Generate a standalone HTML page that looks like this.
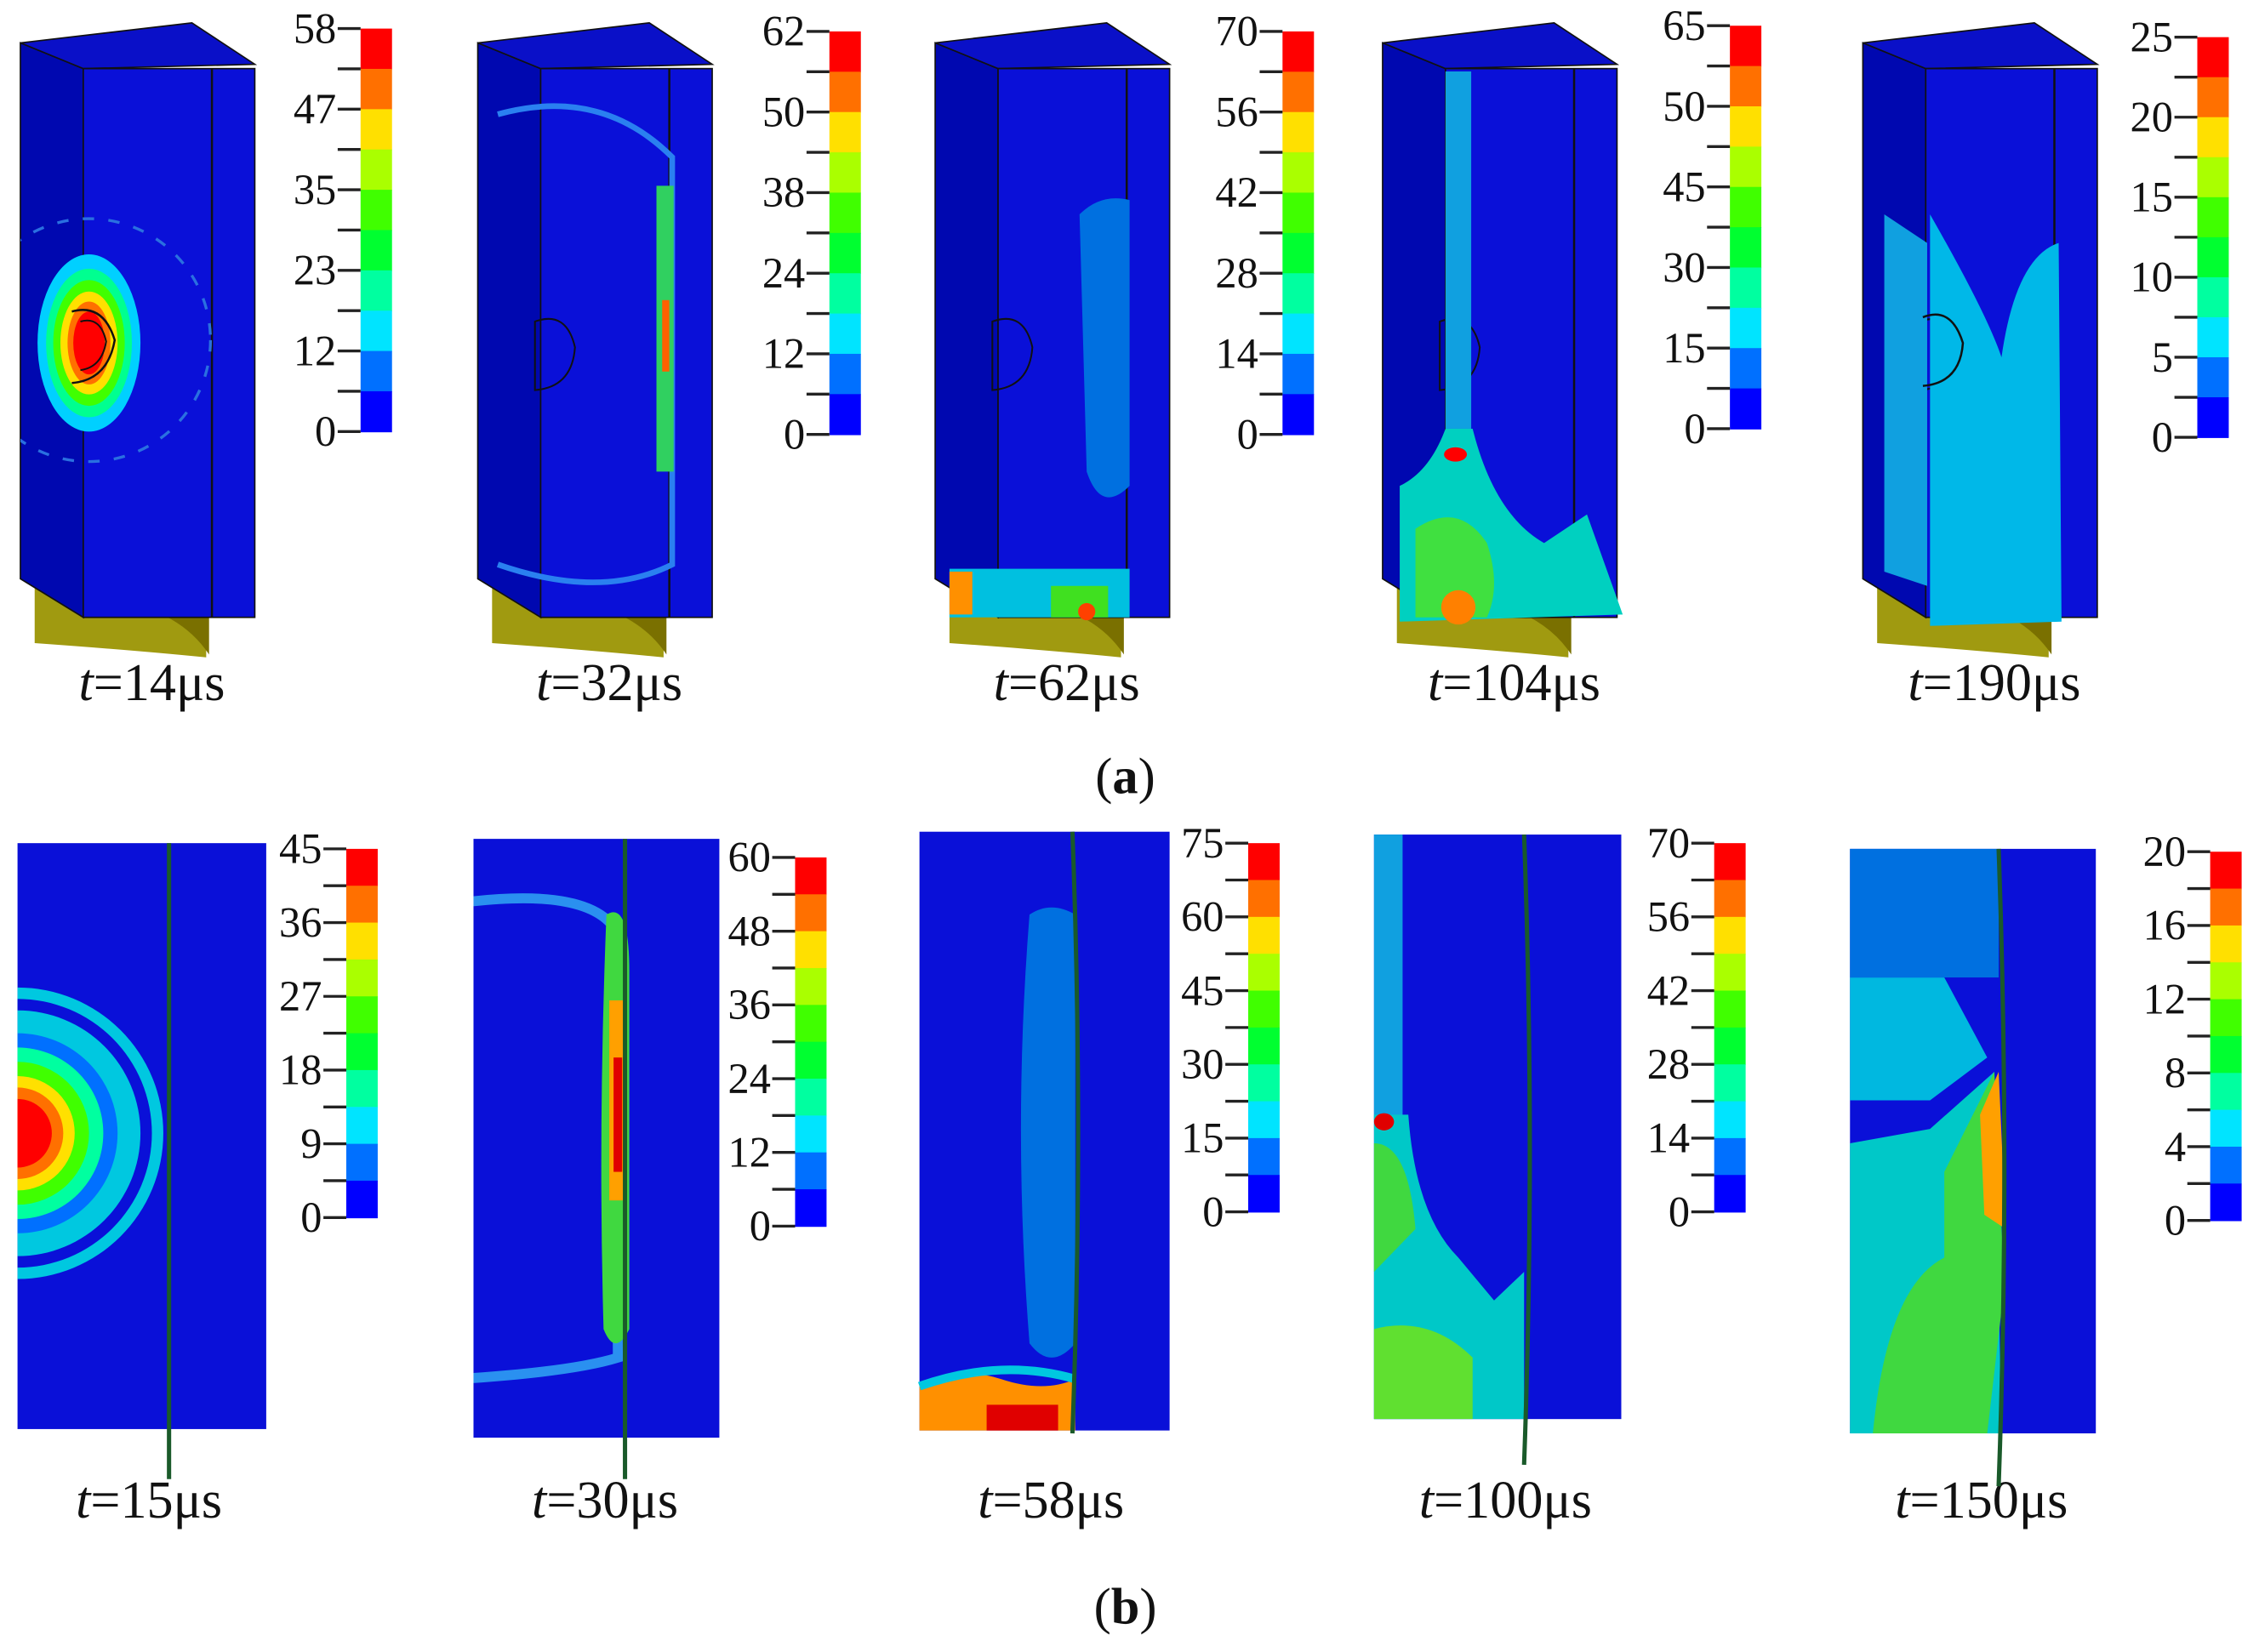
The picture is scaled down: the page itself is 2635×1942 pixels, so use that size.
<!DOCTYPE html>
<html><head><meta charset="utf-8"><style>
html,body{margin:0;padding:0;background:#fff;}
svg{display:block;}
text{font-family:"Liberation Serif",serif;fill:#111;}
</style></head><body>
<svg id="fig" width="2635" height="1942" viewBox="0 0 1568 1156" xmlns="http://www.w3.org/2000/svg">
<g id="panels"></g>
<g id="bars"></g>
<text x="787" y="555" text-anchor="middle" font-size="36">(<tspan font-weight="bold">a</tspan>)</text>
<text x="787" y="1136" text-anchor="middle" font-size="36">(<tspan font-weight="bold">b</tspan>)</text>
</svg>
<script>
const NS="http://www.w3.org/2000/svg";
const colors=["#ff0000","#ff7000","#ffe000","#aaff00","#40ff00","#00ff30","#00ffa0","#00e4ff","#0070ff","#0000ff"];
const timesA=["14","32","62","104","190"];
const timesB=["15","30","58","100","150"];
const ticksA=[[0,12,23,35,47,58],[0,12,24,38,50,62],[0,14,28,42,56,70],[0,15,30,45,50,65],[0,5,10,15,20,25]];
const ticksB=[[0,9,18,27,36,45],[0,12,24,36,48,60],[0,15,30,45,60,75],[0,14,28,42,56,70],[0,4,8,12,16,20]];
const BG="#0a10d8";
function el(tag,attrs,parent){const e=document.createElementNS(NS,tag);for(const k in attrs)e.setAttribute(k,attrs[k]);parent.appendChild(e);return e;}
const P=document.getElementById('panels'),B=document.getElementById('bars');

function colorbar(x,top,bot,ticks,idx,row){
  const g=el('g',{},B);
  
  
  const n=colors.length,h=(bot-top)/n;
  colors.forEach((c,i)=>{const r=el('rect',{x:x,y:top+i*h,width:22,height:h+0.5,fill:c},g);
    });
  for(let i=0;i<=n;i++){const y=top+i*h;el('line',{x1:x-16,x2:x,y1:y,y2:y,stroke:'#222','stroke-width':2},g);}
  const mx=ticks.length-1;
  ticks.forEach((v,i)=>{const y=bot-(i/mx)*(bot-top);
    const t=el('text',{x:x-17,y:y+10,'text-anchor':'end','font-size':30},g);t.textContent=v;
    });
}
function tlabel(x,y,val,row){
  const t=el('text',{x:x,y:y,'text-anchor':'middle','font-size':37},P);
  
  const a=el('tspan',{'font-style':'italic'},t);a.textContent='t';
  const b=el('tspan',{},t);b.textContent='='+val+'μs';
}
const xA=[14,334,654,967,1303],barA=[252,580,897,1210,1537];
xA.forEach((x0,i)=>{
  const g=el('g',{},P);
  
  el('path',{d:`M${x0+10} ${400} L${x0+10} 450 Q${x0+80} 455 ${x0+130} 460 L${x0+130} 415 Z`,fill:'#a09a10'},g);
  el('path',{d:`M${x0+60} 420 Q${x0+110} 425 ${x0+132} 458 L${x0+132} 420 Z`,fill:'#7a7000'},g);
  el('polygon',{points:`${x0},30 ${x0+44},48 ${x0+44},432 ${x0},405`,fill:'#0008b0',stroke:'#111','stroke-width':1},g);
  el('polygon',{points:`${x0},30 ${x0+120},16 ${x0+164},45 ${x0+44},48`,fill:'#0a10c8',stroke:'#111','stroke-width':1},g);
  el('rect',{x:x0+44,y:48,width:120,height:384,fill:BG,stroke:'#111','stroke-width':1},g);
  el('line',{x1:x0+134,y1:48,x2:x0+134,y2:432,stroke:'#111','stroke-width':1.5},g);
  if(i>0) el('path',{d:`M${x0+40} 225 q22 -8 28 18 q-2 28 -28 30 Z`,fill:'none',stroke:'#111','stroke-width':1.2},g);
  tlabel(x0+92,490,timesA[i],'a');
  colorbar(barA[i],[20,22,22,18,26][i],[302,304,304,300,306][i],ticksA[i],i,'a');
});
(function(){
  let g=P;
  const clipA=el('clipPath',{id:'ca'},g);el('polygon',{points:'14,30 58,48 178,48 178,432 58,432 14,405'},clipA);
  const ga=el('g',{'clip-path':'url(#ca)'},g);
  el('ellipse',{cx:62,cy:238,rx:85,ry:85,fill:'none',stroke:'#2a70e0','stroke-width':2,'stroke-dasharray':'8 10'},ga);
  const r=[[36,62,'#00d0ff'],[30,52,'#00ff90'],[25,44,'#40ff00'],[20,36,'#ffe000'],[15,29,'#ff7000'],[11,22,'#ff0000']];
  r.forEach(a=>el('ellipse',{cx:62,cy:240,rx:a[0],ry:a[1],fill:a[2]},ga));
  el('path',{d:'M50 218 q22 -6 30 20 q-5 28 -30 30',fill:'none',stroke:'#111','stroke-width':1.5},g);
  el('path',{d:'M56 225 q14 -4 18 14 q-3 18 -18 20',fill:'none',stroke:'#111','stroke-width':1.2},g);
  el('path',{d:'M348 80 Q420 60 470 110 L470 395 Q420 420 348 395',fill:'none',stroke:'#2a80f0','stroke-width':4},g);
  el('rect',{x:459,y:130,width:12,height:200,fill:'#30d060'},g);
  el('rect',{x:463,y:210,width:5,height:50,fill:'#ff6000'},g);
  el('path',{d:'M755 150 Q770 135 790 140 L790 340 Q770 360 760 330 Z',fill:'#0070e0'},g);
  el('rect',{x:664,y:398,width:126,height:34,fill:'#00c0e0'},g);
  el('rect',{x:735,y:410,width:40,height:22,fill:'#40e020'},g);
  el('circle',{cx:760,cy:428,r:6,fill:'#ff4000'},g);
  el('rect',{x:664,y:400,width:16,height:30,fill:'#ff9000'},g);
  el('rect',{x:1011,y:50,width:18,height:250,fill:'#10a0e0'},g);
  el('path',{d:'M1011 300 L1030 300 Q1045 360 1080 380 L1110 360 L1135 430 L979 435 L979 340 Q1000 330 1011 300 Z',fill:'#00d0c0'},g);
  el('path',{d:'M990 370 Q1020 350 1040 380 Q1050 410 1040 432 L990 432 Z',fill:'#40e040'},g);
  el('circle',{cx:1020,cy:425,r:12,fill:'#ff8000'},g);
  el('ellipse',{cx:1018,cy:318,rx:8,ry:5,fill:'#ff0000'},g);
  el('path',{d:'M1350 150 Q1390 220 1400 250 Q1410 180 1440 170 L1442 435 L1350 438 Z',fill:'#00b8e8'},g);
  el('path',{d:'M1318 150 L1348 170 L1348 410 L1318 400 Z',fill:'#10a0e0'},g);
  el('path',{d:'M1345 222 q20 -8 28 18 q-2 28 -28 30',fill:'none',stroke:'#111','stroke-width':1.5},g);
})();
const rB=[[12,590,174,410],[331,587,172,419],[643,582,175,419],[961,584,173,409],[1294,594,172,409]];
const barB=[[242,594,852],[556,600,858],[873,590,848],[1199,590,848],[1546,596,854]];
const lineX=[118,437,750,1066,1398];
rB.forEach((r,i)=>{
  const g=el('g',{},P);
  
  el('rect',{x:r[0],y:r[1],width:r[2],height:r[3],fill:BG},g);
  tlabel(r[0]+92,1062,timesB[i],'b');
  colorbar(barB[i][0],barB[i][1],barB[i][2],ticksB[i],i,'b');
});
(function(){
  const g=P;
  const c=[[102,'#00c8e0'],[94,BG],[86,'#00c8e0'],[70,'#0070ff'],[60,'#00ffa0'],[50,'#40ff00'],[40,'#ffe000'],[32,'#ff7000'],[24,'#ff0000']];
  const clip=el('clipPath',{id:'c1'},g);el('rect',{x:12,y:590,width:174,height:410},clip);
  const gg=el('g',{'clip-path':'url(#c1)'},g);
  c.forEach(a=>el('circle',{cx:12,cy:793,r:a[0],fill:a[1]},gg));
  const clip2=el('clipPath',{id:'c2'},g);el('rect',{x:331,y:587,width:172,height:419},clip2);
  const g2=el('g',{'clip-path':'url(#c2)'},g);
  el('path',{d:'M320 632 Q410 620 430 650 L432 950 Q400 960 320 965',fill:'none',stroke:'#2a90f0','stroke-width':7},g2);
  el('path',{d:'M424 640 Q440 630 440 680 L440 930 Q430 950 422 930 Q418 790 424 640 Z',fill:'#40d840'},g2);
  el('rect',{x:426,y:700,width:12,height:140,fill:'#ffa000'},g2);
  el('rect',{x:429,y:740,width:6,height:80,fill:'#e00000'},g2);
  el('path',{d:'M720 640 Q735 630 752 640 L752 940 Q735 960 720 940 Q708 790 720 640 Z',fill:'#0070e0'},g);
  el('path',{d:'M643 970 Q670 955 700 965 Q730 975 752 965 L752 1001 L643 1001 Z',fill:'#ff9000'},g);
  el('rect',{x:690,y:983,width:50,height:18,fill:'#e00000'},g);
  el('path',{d:'M643 970 Q700 950 752 965',fill:'none',stroke:'#00c8e0','stroke-width':6},g);
  el('rect',{x:961,y:584,width:20,height:200,fill:'#10a0e0'},g);
  el('path',{d:'M961 780 L985 780 Q990 850 1020 880 L1045 910 L1066 890 L1066 993 L961 993 Z',fill:'#00c8c8'},g);
  el('path',{d:'M961 800 Q985 800 990 860 L961 890 Z',fill:'#40d840'},g);
  el('path',{d:'M961 930 Q1000 920 1030 950 L1030 993 L961 993 Z',fill:'#60e030'},g);
  el('ellipse',{cx:968,cy:785,rx:7,ry:6,fill:'#e00000'},g);
  el('rect',{x:1294,y:594,width:104,height:90,fill:'#0070e0'},g);
  el('path',{d:'M1294 684 L1360 684 L1390 740 L1350 770 L1294 770 Z',fill:'#00b8e0'},g);
  el('path',{d:'M1294 800 L1350 790 L1395 750 L1400 1003 L1294 1003 Z',fill:'#00c8c8'},g);
  el('path',{d:'M1360 820 L1395 750 L1402 900 L1390 1003 L1310 1003 Q1320 900 1360 880 Z',fill:'#40d840'},g);
  el('path',{d:'M1385 780 L1398 750 L1403 860 L1388 850 Z',fill:'#ffa000'},g);
  lineX.forEach((x,i)=>{const top=rB[i][1],bot=[1035,1035,1003,1025,1040][i];
    const p=el('path',{d:`M${x} ${top} Q${x+ (i>1?8:0)} ${(top+bot)/2} ${x} ${bot}`,fill:'none',stroke:'#1a5a2a','stroke-width':3},g);
    });
})();
</script>
</body></html>
